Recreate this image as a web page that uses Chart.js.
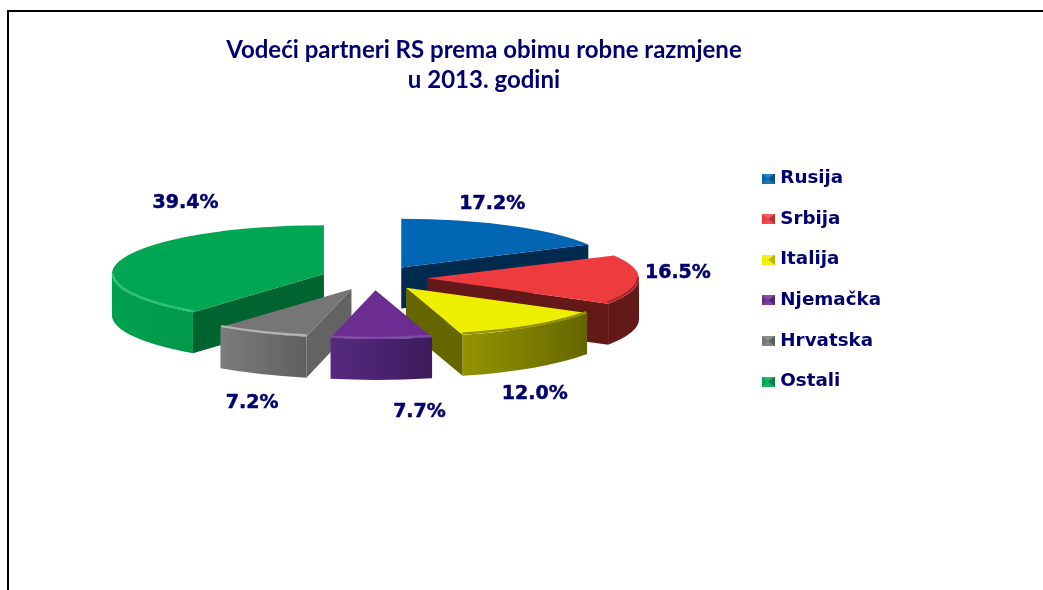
<!DOCTYPE html>
<html>
<head>
<meta charset="utf-8">
<style>html,body{margin:0;padding:0;background:#fff}canvas{display:block}</style>
<script src="https://cdn.jsdelivr.net/npm/chart.js@4"></script>
</head>
<body>
<canvas id="c" width="1043" height="590"></canvas>
<script>
const categories = ['Rusija', 'Srbija', 'Italija', 'Njemačka', 'Hrvatska', 'Ostali'];
const shares = [17.2, 16.5, 12.0, 7.7, 7.2, 39.4];
const titleLines = ['Vodeći partneri RS prema obimu robne razmjene', 'u 2013. godini'];
const topColors = ['#0066b3', '#ee3b3e', '#eeee00', '#6b2d91', '#767676', '#00a651'];
const cutColors = ['#002b4f', '#641818', '#666600', '#3f1b5c', '#636363', '#006430'];
const wallLeft = ['#004f8a', '#641818', '#949400', '#562a80', '#7c7c7c', '#00a04e'];
const wallRight = ['#003a66', '#641818', '#666600', '#3d1a5c', '#5f5f5f', '#00994a'];
const rimColors = ['#00447a', '#a02a2a', '#8f8f00', '#7d4aa5', '#b4b4b4', '#2ec07c'];
const labelNudge = [[-18, -22], [39, -7], [1, 67], [38, 73], [-9, 70], [62, -55]];

const NAVY = '#00006e';
const VIEW = {cx: 374, cy: 278, squash: 0.23, depth: 41, radius: 212, explode: 53};

function geom(el) {
  const p = el.getProps(['startAngle', 'endAngle']);
  const mid = (p.startAngle + p.endAngle) / 2;
  const off = VIEW.explode;
  const tx = VIEW.cx + Math.cos(mid) * off;
  const ty = VIEW.cy + Math.sin(mid) * off * VIEW.squash;
  const R = VIEW.radius;
  const at = a => [tx + R * Math.cos(a), ty + R * Math.sin(a) * VIEW.squash];
  return {tx, ty, R, mid, start: p.startAngle, end: p.endAngle, at};
}
function frontRange(g) {
  const TAU = Math.PI * 2;
  let s = g.start, e = g.end;
  while (s > Math.PI) { s -= TAU; e -= TAU; }
  while (e > TAU) { s -= TAU; e -= TAU; }
  const lo = Math.max(s, 0), hi = Math.min(e, Math.PI);
  return hi > lo ? [lo, hi] : null;
}
function face(ctx, g, a, color) {
  const [x, y] = g.at(a), d = VIEW.depth;
  ctx.fillStyle = color;
  ctx.beginPath();
  ctx.moveTo(g.tx, g.ty);
  ctx.lineTo(x, y);
  ctx.lineTo(x, y + d);
  ctx.lineTo(g.tx, g.ty + d);
  ctx.closePath();
  ctx.fill();
}
const pie3d = {
  id: 'pie3d',
  afterDatasetsUpdate(chart) {
    // Explode each slice by translating its own draw, so its sweep and radius stay exact.
    chart.getDatasetMeta(0).data.forEach(el => {
      if (el.__exploded) return;
      el.__exploded = true;
      const base = el.draw;
      el.draw = function (ctx) {
        const mid = (this.startAngle + this.endAngle) / 2;
        ctx.save();
        ctx.translate(Math.cos(mid) * VIEW.explode, Math.sin(mid) * VIEW.explode);
        base.call(this, ctx);
        ctx.restore();
      };
    });
  },
  beforeDraw(chart) {
    const ctx = chart.ctx;
    ctx.save();
    ctx.strokeStyle = '#000';
    ctx.lineWidth = 2;
    ctx.beginPath();
    ctx.moveTo(8, 590);
    ctx.lineTo(8, 11);
    ctx.lineTo(1043, 11);
    ctx.stroke();
    ctx.restore();
  },
  beforeDatasetsDraw(chart) {
    const ctx = chart.ctx, arcs = chart.getDatasetMeta(0).data, d = VIEW.depth;
    const order = arcs.map((el, i) => ({i, g: geom(el)}))
      .sort((a, b) => Math.sin(a.g.mid) - Math.sin(b.g.mid));
    ctx.save();
    order.forEach(({i, g}) => {
      const r = frontRange(g);
      if (r) {
        const [x0] = g.at(r[0]), [x1] = g.at(r[1]);
        const grad = ctx.createLinearGradient(Math.min(x0, x1), 0, Math.max(x0, x1), 0);
        grad.addColorStop(0, wallLeft[i]);
        grad.addColorStop(1, wallRight[i]);
        ctx.fillStyle = grad;
        ctx.beginPath();
        ctx.ellipse(g.tx, g.ty, g.R, g.R * VIEW.squash, 0, r[0], r[1]);
        ctx.ellipse(g.tx, g.ty + d, g.R, g.R * VIEW.squash, 0, r[1], r[0], true);
        ctx.closePath();
        ctx.fill();
      }
      if (Math.cos(g.start) < 0) face(ctx, g, g.start, cutColors[i]);
      if (Math.cos(g.end) > 0) face(ctx, g, g.end, cutColors[i]);
    });
    ctx.restore();
    const el = arcs[0];
    ctx.save();
    ctx.translate(VIEW.cx, VIEW.cy);
    ctx.scale(1, VIEW.squash);
    ctx.translate(-el.x, -el.y);
  },
  afterDatasetsDraw(chart) {
    const ctx = chart.ctx, arcs = chart.getDatasetMeta(0).data;
    ctx.restore();
    ctx.save();
    arcs.forEach((el, i) => {
      const g = geom(el), r = frontRange(g);
      if (r) {
        ctx.strokeStyle = rimColors[i];
        ctx.lineWidth = 2.2;
        ctx.beginPath();
        ctx.ellipse(g.tx, g.ty - 1, g.R - 1, (g.R - 1) * VIEW.squash, 0, r[0], r[1]);
        ctx.stroke();
      }
      const [x, y] = g.at(g.mid);
      ctx.fillStyle = NAVY;
      ctx.strokeStyle = NAVY;
      ctx.lineWidth = 0.5;
      ctx.font = 'bold 19px "DejaVu Sans"';
      ctx.textAlign = 'center';
      ctx.textBaseline = 'middle';
      const t = shares[i].toFixed(1) + '%';
      ctx.fillText(t, x + labelNudge[i][0], y + labelNudge[i][1]);
      ctx.strokeText(t, x + labelNudge[i][0], y + labelNudge[i][1]);
    });
    ctx.restore();
  }
};
function swatch(color) {
  const w = 13, h = 10;
  const cv = document.createElement('canvas');
  cv.width = w; cv.height = h;
  const c = cv.getContext('2d');
  c.fillStyle = color;
  c.fillRect(0, 0, w, h);
  const tri = (pts, col) => {
    c.fillStyle = col; c.beginPath();
    c.moveTo(...pts[0]); c.lineTo(...pts[1]); c.lineTo(...pts[2]); c.closePath(); c.fill();
  };
  tri([[0, 0], [w, 0], [w / 2, h / 2]], 'rgba(255,255,255,0.18)');
  tri([[0, h], [w, h], [w / 2, h / 2]], 'rgba(255,255,255,0.10)');
  tri([[w, 0], [w, h], [w / 2, h / 2]], 'rgba(0,0,0,0.22)');
  return cv;
}
new Chart(document.getElementById('c'), {
  type: 'pie',
  data: {
    labels: categories,
    datasets: [{
      data: shares,
      backgroundColor: topColors,
      borderWidth: 0,
      clip: false
    }]
  },
  plugins: [pie3d],
  options: {
    responsive: false,
    animation: false,
    radius: VIEW.radius,
    layout: {padding: {left: 225, right: 152, top: 0, bottom: 30}},
    plugins: {
      tooltip: {enabled: false},
      title: {
        display: true,
        fullSize: false,
        text: titleLines,
        color: NAVY,
        font: {family: 'Lato', weight: 'bold', size: 24, lineHeight: 1.25},
        padding: {top: 35, bottom: 0}
      },
      legend: {
        position: 'right',
        align: 'center',
        labels: {
          font: {family: '"DejaVu Sans"', weight: 'bold', size: 18.3},
          color: NAVY,
          usePointStyle: true,
          boxWidth: 6,
          boxHeight: 10,
          padding: 22.3,
          generateLabels: () => categories.map((text, i) => ({
            text, index: i, fontColor: NAVY, pointStyle: swatch(topColors[i]), lineWidth: 0
          }))
        }
      }
    }
  }
});
</script>
</body>
</html>
